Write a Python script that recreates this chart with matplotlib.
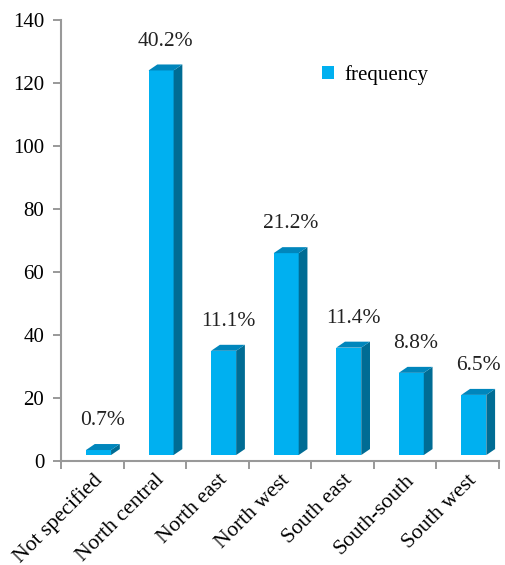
import matplotlib.pyplot as plt
import matplotlib.transforms as mtransforms
from matplotlib.patches import Polygon, Rectangle

regions = ['Not specified', 'North central', 'North east', 'North west',
           'South east', 'South-south', 'South west']
frequency = [3.5, 124, 35, 66, 36, 28, 21]
percent = ['0.7%', '40.2%', '11.1%', '21.2%', '11.4%', '8.8%', '6.5%']

plt.rcParams['font.family'] = ['Liberation Serif', 'DejaVu Serif']

fig = plt.figure(figsize=(5.05, 5.65), dpi=100)
ax = fig.add_axes([0.1208, 0.184, 0.867, 0.7805])

front = '#00B0F0'
top_c = '#0086BC'
side_c = '#006C94'
x0, x1 = -0.1, 0.3      # front face relative to category centre
dx, dy = 0.14, 1.9      # depth of the 3d effect
base = 1.9

for i, v in enumerate(frequency):
    l, r = i + x0, i + x1
    ax.add_patch(Rectangle((l, base), r - l, v - base, facecolor=front, edgecolor='none'))
    ax.add_patch(Polygon([(r, base), (r + dx, base + dy), (r + dx, v + dy), (r, v)],
                         closed=True, facecolor=side_c, edgecolor='none'))
    ax.add_patch(Polygon([(l, v), (l + dx, v + dy), (r + dx, v + dy), (r, v)],
                         closed=True, facecolor=top_c, edgecolor='none'))
    ax.annotate(percent[i], (i + 0.17, v + dy), xytext=(0, 10), textcoords='offset points',
                ha='center', va='bottom', fontsize=15.5, color='#222222')

ax.set_xlim(-0.5, len(regions) - 0.5)
ax.set_ylim(0, 140)
ax.set_yticks(range(0, 141, 20))
ax.set_xticks([i - 0.5 for i in range(len(regions) + 1)], minor=False)
ax.set_xticklabels([])
ax.set_xticks(range(len(regions)), minor=True)
ax.set_xticklabels(regions, minor=True, rotation=45, ha='right', va='top',
                   rotation_mode='anchor', fontsize=15.7)
shift = mtransforms.ScaledTranslation(-5 / 100, 0, fig.dpi_scale_trans)
for lab in ax.get_xticklabels(minor=True):
    lab.set_transform(lab.get_transform() + shift)
ax.tick_params(axis='x', which='minor', length=0, pad=7)
ax.tick_params(axis='x', which='major', length=6, color='#888888', width=1.2)
ax.tick_params(axis='y', length=6, color='#888888', width=1.2, labelsize=15, pad=6)

for s in ['top', 'right']:
    ax.spines[s].set_visible(False)
for s in ['left', 'bottom']:
    ax.spines[s].set_color('#999999')
    ax.spines[s].set_linewidth(1.5)

ax.legend([Rectangle((0, 0), 1, 1, facecolor=front)], ['frequency'], loc='upper left',
          bbox_to_anchor=(0.553, 0.94), frameon=False, fontsize=15,
          handlelength=0.6, handleheight=0.6, handletextpad=0.5)

plt.savefig('out.png', dpi=100)
